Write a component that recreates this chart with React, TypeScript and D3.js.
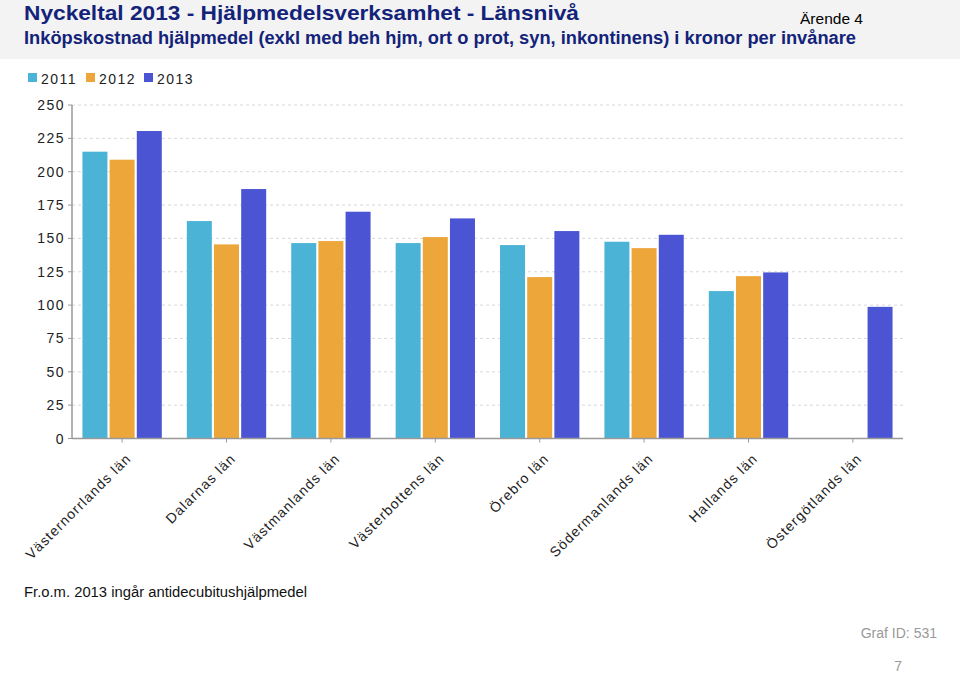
import React from "react";
import * as d3 from "d3";

const categories = [
  "Västernorrlands län",
  "Dalarnas län",
  "Västmanlands län",
  "Västerbottens län",
  "Örebro län",
  "Södermanlands län",
  "Hallands län",
  "Östergötlands län",
];
const seriesNames = ["2011", "2012", "2013"];
const values2011: (number | null)[] = [215, 163, 146.5, 146.5, 145, 147.5, 110.5, null];
const values2012: (number | null)[] = [209, 145.5, 148, 151, 121, 142.7, 121.7, null];
const values2013: (number | null)[] = [230.5, 187, 170, 165, 155.5, 152.7, 124.5, 98.7];
const yTicks = [0, 25, 50, 75, 100, 125, 150, 175, 200, 225, 250];
const colors = ["#4bb3d5", "#eda63a", "#4b55d3"];

const W = 960;
const H = 674;
const left = 72;
const right = 903;
const top = 105;
const bottom = 438.5;

export default function App() {
  const series = [values2011, values2012, values2013];
  const x = d3.scaleBand<string>().domain(categories).range([left, right]).paddingInner(0.24).paddingOuter(0.1);
  const x1 = d3.scaleBand<string>().domain(seriesNames).range([0, x.bandwidth()]).paddingInner(0.08);
  const y = d3.scaleLinear().domain([0, 250]).range([bottom, top]);
  const font = "Liberation Sans, Arial, Helvetica, sans-serif";

  return (
    <svg width={W} height={H} style={{ position: "absolute", left: 0, top: 0, background: "#fff" }} fontFamily={font}>
      <rect x={0} y={0} width={W} height={59} fill="#f3f3f3" />
      <text x={24} y={20} fontSize={21} fontWeight="bold" fill="#14237a" textLength={555} lengthAdjust="spacingAndGlyphs">
        Nyckeltal 2013 - Hjälpmedelsverksamhet - Länsnivå
      </text>
      <text x={24} y={44} fontSize={18} fontWeight="bold" fill="#14237a" textLength={832} lengthAdjust="spacingAndGlyphs">
        Inköpskostnad hjälpmedel (exkl med beh hjm, ort o prot, syn, inkontinens) i kronor per invånare
      </text>
      <text x={800} y={24} fontSize={15} fill="#000" textLength={63} lengthAdjust="spacingAndGlyphs">
        Ärende 4
      </text>

      {/* legend */}
      {seriesNames.map((s, i) => (
        <g key={s} transform={`translate(${28 + i * 58},0)`}>
          <rect x={0} y={73} width={9} height={9} fill={colors[i]} />
          <text x={13} y={83.5} fontSize={14} letterSpacing={1.5} fill="#222">
            {s}
          </text>
        </g>
      ))}

      {/* grid */}
      {yTicks.map((t) => (
        <g key={t}>
          {t > 0 && (
            <line x1={left} x2={right} y1={y(t)} y2={y(t)} stroke="#d8d8d8" strokeDasharray="3,3" />
          )}
          <line x1={left - 4} x2={left} y1={y(t)} y2={y(t)} stroke="#999" />
          <text x={65} y={y(t) + 5} fontSize={14} letterSpacing={1.5} textAnchor="end" fill="#222">
            {t}
          </text>
        </g>
      ))}

      {/* bars */}
      {categories.map((c, ci) => (
        <g key={c} transform={`translate(${x(c)},0)`}>
          {series.map((vals, si) => {
            const v = vals[ci];
            if (v == null) return null;
            return (
              <rect
                key={si}
                x={x1(seriesNames[si])}
                y={y(v)}
                width={x1.bandwidth()}
                height={bottom - y(v)}
                fill={colors[si]}
              />
            );
          })}
        </g>
      ))}

      {/* axes */}
      <line x1={left} x2={left} y1={top} y2={bottom} stroke="#999" strokeWidth={1.5} />
      <line x1={left} x2={right} y1={bottom} y2={bottom} stroke="#999" strokeWidth={1.5} />
      {categories.map((c) => {
        const cx = (x(c) as number) + x.bandwidth() / 2;
        return (
          <g key={c}>
            <line x1={cx} x2={cx} y1={bottom} y2={bottom + 4} stroke="#999" />
            <text
              transform={`translate(${cx + 10},${bottom + 21}) rotate(-45)`}
              fontSize={14}
              letterSpacing={1.1}
              textAnchor="end"
              fill="#222"
            >
              {c}
            </text>
          </g>
        );
      })}

      <text x={24} y={597} fontSize={14} fill="#111" textLength={283} lengthAdjust="spacingAndGlyphs">
        Fr.o.m. 2013 ingår antidecubitushjälpmedel
      </text>
      <text x={937} y={638} fontSize={14} fill="#999" textAnchor="end">
        Graf ID: 531
      </text>
      <text x={902} y={671} fontSize={14} fill="#999" textAnchor="end">
        7
      </text>
    </svg>
  );
}
